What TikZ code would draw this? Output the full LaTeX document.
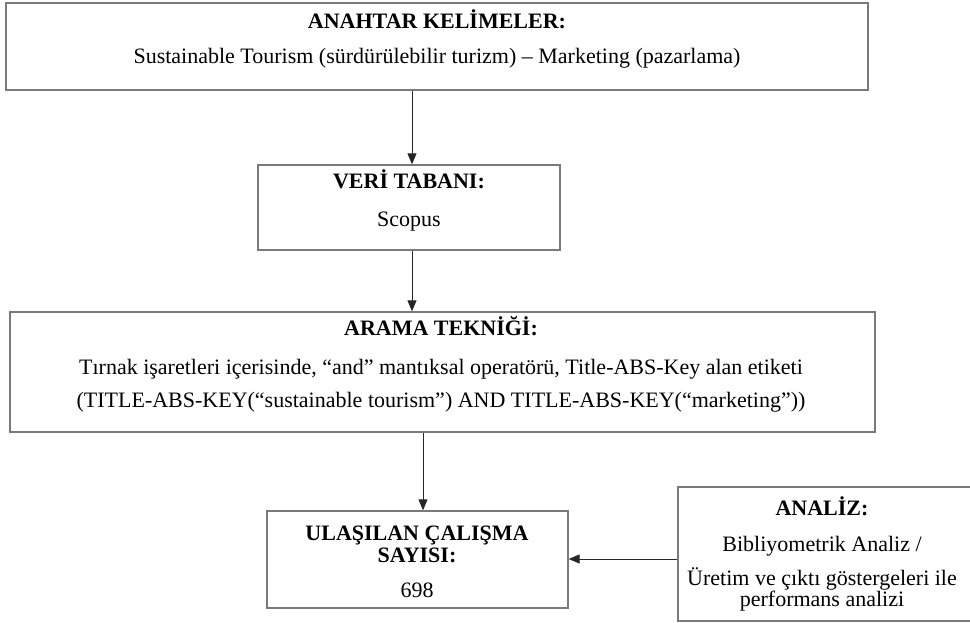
\documentclass[tikz,border=0pt]{standalone}
\usepackage{fontspec}
\setmainfont{Liberation Serif}
\usetikzlibrary{arrows.meta}
\tikzset{
  boxnode/.style={draw=black!52, line width=1.3pt, fill=white, rectangle, inner sep=0pt},
  txt/.style={anchor=base, inner sep=0pt, font=\fontsize{22}{26}\selectfont},
  ttl/.style={txt, font=\fontsize{22}{26}\selectfont\bfseries},
  arr/.style={draw=black!85, line width=0.9pt, -{Triangle[length=11pt,width=9pt]}}
}
\begin{document}
\begin{tikzpicture}[x=1pt,y=-1pt]
\useasboundingbox (0,0) rectangle (970,623);
\clip (0,0) rectangle (970,623);
% boxes (pixel coordinates, y downward)
\node[boxnode, minimum width=862pt, minimum height=87pt] (b1) at (437,46.5) {};
\node[boxnode, minimum width=302pt, minimum height=85pt] (b2) at (409,207.5) {};
\node[boxnode, minimum width=865pt, minimum height=120pt] (b3) at (442.5,372) {};
\node[boxnode, minimum width=301pt, minimum height=97pt] (b4) at (417.5,559.5) {};
\node[boxnode, minimum width=312pt, minimum height=134pt] (b5) at (834,554) {};
% texts
\node[ttl] (t1a) at (437,29) {ANAHTAR KELİMELER:};
\node[txt] (t1b) at (437,64) {Sustainable Tourism (sürdürülebilir turizm) – Marketing (pazarlama)};
\node[ttl] (t2a) at (409,189) {VERİ TABANI:};
\node[txt] (t2b) at (409,226) {Scopus};
\node[ttl] (t3a) at (441,335) {ARAMA TEKNİĞİ:};
\node[txt] (t3b) at (441,374) {Tırnak işaretleri içerisinde, “and” mantıksal operatörü, Title-ABS-Key alan etiketi};
\node[txt] (t3c) at (441,407) {(TITLE-ABS-KEY(“sustainable tourism”) AND TITLE-ABS-KEY(“marketing”))};
\node[ttl] (t4a) at (417,540) {ULAŞILAN ÇALIŞMA};
\node[ttl] (t4b) at (417,562) {SAYISI:};
\node[txt] (t4c) at (417,597) {698};
\node[ttl] (t5a) at (822,515) {ANALİZ:};
\node[txt] (t5b) at (822,551) {Bibliyometrik Analiz /};
\node[txt] (t5c) at (822,585) {Üretim ve çıktı göstergeleri ile};
\node[txt] (t5d) at (822,606) {performans analizi};
% connector guides
\coordinate (c1) at (412,0);
\coordinate (c3) at (423,0);
\coordinate (c4) at (0,559);
% connectors
\draw[arr] (b1.south -| c1) -- (b2.north -| c1);
\draw[arr] (b2.south -| c1) -- (b3.north -| c1);
\draw[arr] (b3.south -| c3) -- (b4.north -| c3);
\draw[arr] (b5.west |- c4) -- (b4.east |- c4);
\end{tikzpicture}
\end{document}
